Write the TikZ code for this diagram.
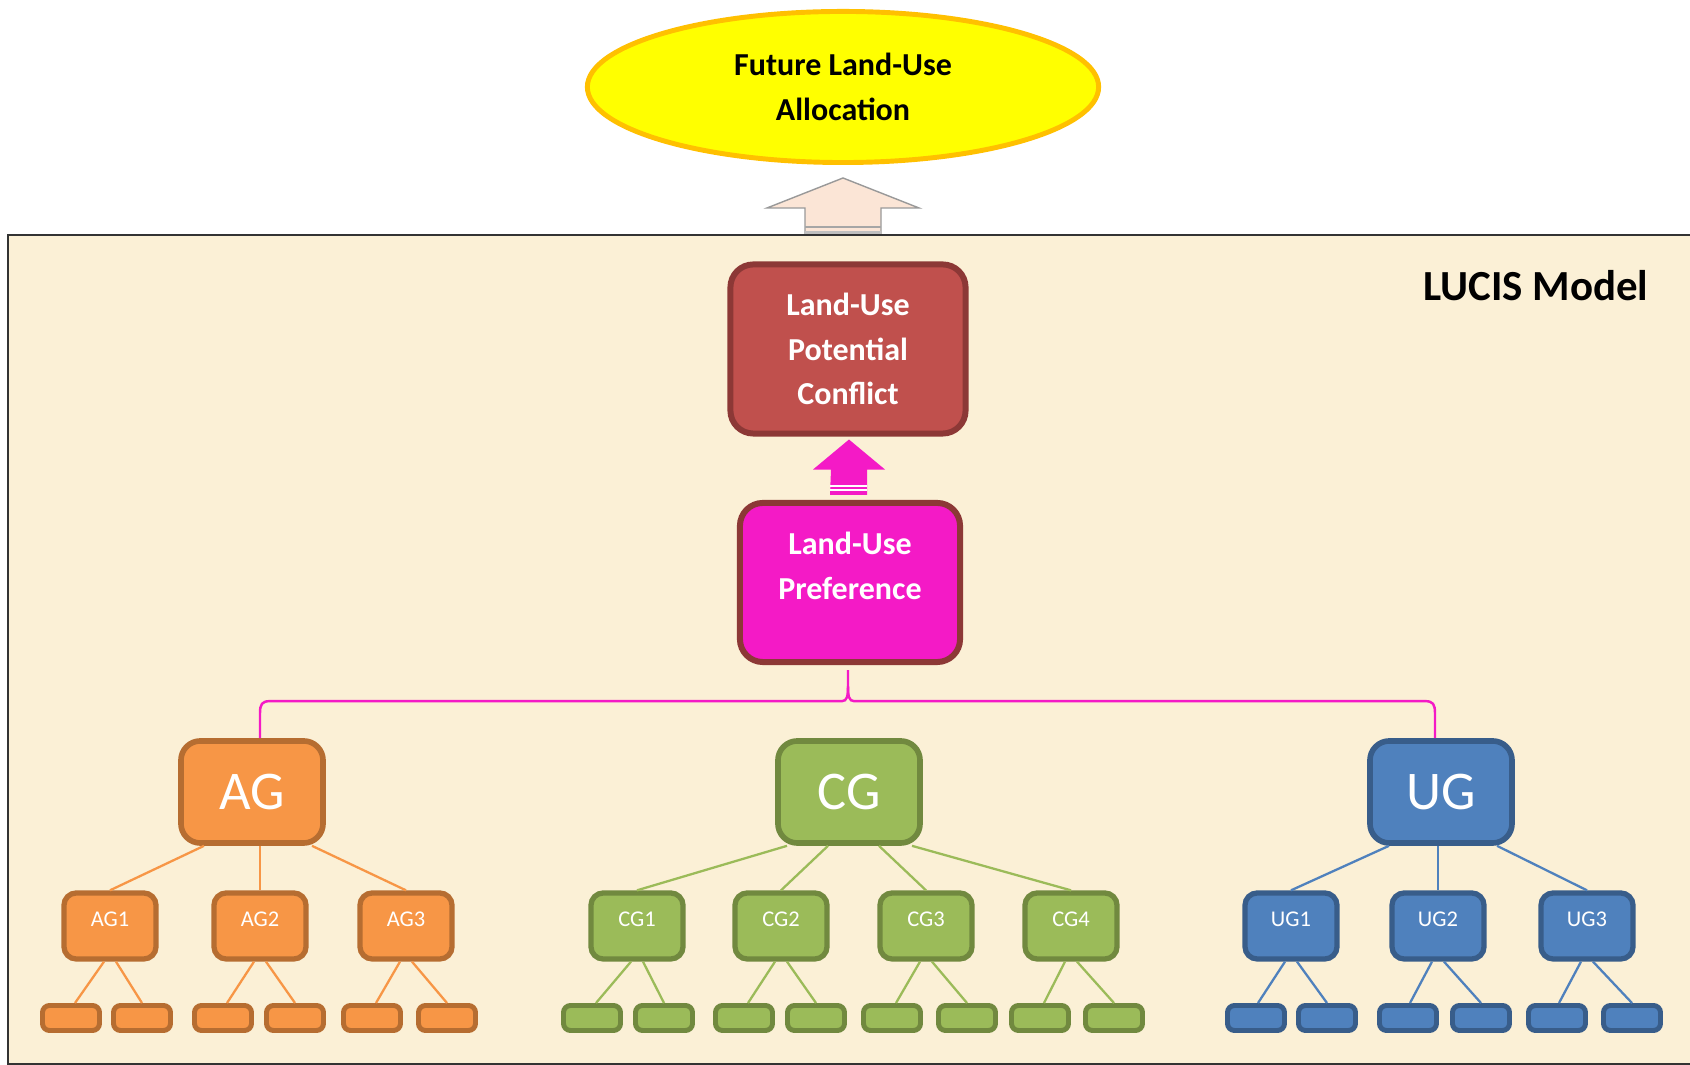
\documentclass[tikz,border=0pt]{standalone}
\usepackage{fontspec}
\setmainfont{Carlito}
\usetikzlibrary{calc,shapes.geometric}
\definecolor{bgc}{HTML}{FBF0D6}
\definecolor{futfill}{HTML}{FFFF00}
\definecolor{futdraw}{HTML}{FFC000}
\definecolor{arrfill}{HTML}{FBE5D6}
\definecolor{conffill}{HTML}{C0504D}
\definecolor{confdraw}{HTML}{8C3836}
\definecolor{pinkc}{HTML}{F41AC6}
\definecolor{agfill}{HTML}{F79646}
\definecolor{agdraw}{HTML}{B66D31}
\definecolor{cgfill}{HTML}{9BBB59}
\definecolor{cgdraw}{HTML}{71893F}
\definecolor{ugfill}{HTML}{4F81BD}
\definecolor{ugdraw}{HTML}{385D8A}
\begin{document}
\begin{tikzpicture}[x=0.01cm,y=-0.01cm,
  bigbox/.style={rounded corners=5.5pt, line width=1.6pt, minimum width=1.42cm, minimum height=1.02cm, inner sep=0pt, text=white, font=\fontsize{15.5}{18}\selectfont},
  midbox/.style={rounded corners=3.5pt, line width=1.5pt, minimum width=0.92cm, minimum height=0.66cm, inner sep=0pt, text=white, font=\fontsize{6.4}{7.5}\selectfont, text height=4.2pt, text depth=3.7pt},
  leafbox/.style={rounded corners=2pt, line width=1.4pt, minimum width=0.57cm, minimum height=0.25cm, inner sep=0pt},
  ag/.style={fill=agfill, draw=agdraw},
  cg/.style={fill=cgfill, draw=cgdraw},
  ug/.style={fill=ugfill, draw=ugdraw},
  agl/.style={draw=agfill, line width=0.65pt},
  cgl/.style={draw=cgfill, line width=0.65pt},
  ugl/.style={draw=ugfill, line width=0.65pt},
  headtext/.style={font=\fontsize{9.1}{12.7}\selectfont\bfseries, align=center},
]
\useasboundingbox (0,0) rectangle (1690,1065);
\fill[white] (0,0) rectangle (1690,1065);

% model frame
\draw[draw=black!80, line width=0.6pt, fill=bgc] (8,235) rectangle (1700,1064);
\coordinate (frametop) at (843,235);

% top ellipse
\node[ellipse, fill=futfill, draw=futdraw, line width=1.4pt, minimum width=5.11cm, minimum height=1.51cm, inner sep=0pt, headtext] (fut) at (843,87) {Future Land-Use\\Allocation};

% outline arrow to ellipse
\filldraw[fill=arrfill, draw=gray!80, line width=0.4pt]
  ($(fut.south)+(0,13)$) -- ($(fut.south)+(76,43)$) -- ($(fut.south)+(38,43)$)
  -- ($(frametop)+(38,0)$) -- ($(frametop)+(-38,0)$)
  -- ($(fut.south)+(-38,43)$) -- ($(fut.south)+(-76,43)$) -- cycle;
\fill[gray!50] ($(frametop)+(-38,-4)$) rectangle ($(frametop)+(38,0)$);
\draw[gray!70, line width=0.3pt] ($(frametop)+(-38,-8)$) -- ($(frametop)+(38,-8)$);
\draw[black!80, line width=0.6pt] ($(frametop)+(-60,0)$) -- ($(frametop)+(60,0)$);

\node[font=\fontsize{12.2}{14}\selectfont\bfseries] (lucis) at (1536,286) {LUCIS Model};

% conflict and preference
\node[fill=conffill, draw=confdraw, line width=1.7pt, rounded corners=6.5pt, minimum width=2.35cm, minimum height=1.69cm, inner sep=0pt, text=white, headtext] (conf) at (848,349) {Land-Use\\Potential\\Conflict};
\node[fill=pinkc, draw=confdraw, line width=1.7pt, rounded corners=6.5pt, minimum width=2.20cm, minimum height=1.59cm, inner sep=0pt,
  label={[text=white, headtext, yshift=4.8pt]center:Land-Use\\Preference}] (pref) at (850,582.5) {};

% magenta block arrow
\fill[pinkc] ($(conf.south)+(1,3)$) -- ($(conf.south)+(37,33)$) -- ($(conf.south)+(19,33)$)
  -- ($(pref.north)+(17,-5)$) -- ($(pref.north)+(-20,-5)$)
  -- ($(conf.south)+(-17,33)$) -- ($(conf.south)+(-35,33)$) -- cycle;
\draw[white, line width=0.4pt] ($(pref.north)+(-20,-14)$) -- ($(pref.north)+(17,-14)$);
\draw[white, line width=0.4pt] ($(pref.north)+(-20,-10)$) -- ($(pref.north)+(17,-10)$);

% group boxes
\node[bigbox,ag] (AG) at (252,792) {AG};
\node[bigbox,cg] (CG) at (849,792) {CG};
\node[bigbox,ug] (UG) at (1441,792) {UG};

% pink bracket connector
\coordinate (bl) at ($(AG.north)+(8,0)$);
\coordinate (br) at ($(UG.north)+(-6,0)$);
\coordinate (sp) at ($(pref.south)+(-2,5)$);
\draw[pinkc, line width=0.7pt]
  (bl) -- ($(bl)+(0,-25)$) .. controls ($(bl)+(0,-34)$) and ($(bl)+(2,-37)$) .. ($(bl)+(10,-37)$)
  -- ($(sp|-bl)+(-6,-37)$) .. controls ($(sp|-bl)+(-1,-37)$) and ($(sp|-bl)+(0,-42)$) .. ($(sp|-bl)+(0,-52)$)
  -- (sp);
\draw[pinkc, line width=0.7pt]
  ($(sp|-bl)+(0,-52)$) .. controls ($(sp|-bl)+(0,-42)$) and ($(sp|-bl)+(1,-37)$) .. ($(sp|-bl)+(6,-37)$)
  -- ($(br)+(-10,-37)$) .. controls ($(br)+(-2,-37)$) and ($(br)+(0,-34)$) .. ($(br)+(0,-25)$) -- (br);

% second level
\node[midbox,ag] (AG1) at (110,926) {AG1};
\node[midbox,ag] (AG2) at (260,926) {AG2};
\node[midbox,ag] (AG3) at (406,926) {AG3};
\node[midbox,cg] (CG1) at (637,926) {CG1};
\node[midbox,cg] (CG2) at (781,926) {CG2};
\node[midbox,cg] (CG3) at (926,926) {CG3};
\node[midbox,cg] (CG4) at (1071,926) {CG4};
\node[midbox,ug] (UG1) at (1291,926) {UG1};
\node[midbox,ug] (UG2) at (1438,926) {UG2};
\node[midbox,ug] (UG3) at (1587,926) {UG3};

% leaves
\foreach \n/\x in {AG1a/71, AG1b/142, AG2a/223, AG2b/295, AG3a/372, AG3b/447}
  \node[leafbox,ag] (\n) at (\x,1018) {};
\foreach \n/\x in {CG1a/592, CG1b/664, CG2a/744, CG2b/816, CG3a/892, CG3b/967, CG4a/1040, CG4b/1114}
  \node[leafbox,cg] (\n) at (\x,1018) {};
\foreach \n/\x in {UG1a/1256, UG1b/1327, UG2a/1408, UG2b/1481, UG3a/1557, UG3b/1632}
  \node[leafbox,ug] (\n) at (\x,1018) {};

% group to second-level connectors
\draw[agl] ($(AG.south)+(-48,0)$) -- (AG1.north);
\draw[agl] (AG2.north|-AG.south) -- (AG2.north);
\draw[agl] ($(AG.south)+(60,0)$) -- (AG3.north);
\draw[cgl] ($(CG.south)+(-62,0)$) -- (CG1.north);
\draw[cgl] ($(CG.south)+(-21,0)$) -- (CG2.north);
\draw[cgl] ($(CG.south)+(30,0)$) -- (CG3.north);
\draw[cgl] ($(CG.south)+(63,0)$) -- (CG4.north);
\draw[ugl] ($(UG.south)+(-52,0)$) -- (UG1.north);
\draw[ugl] (UG2.north|-UG.south) -- (UG2.north);
\draw[ugl] ($(UG.south)+(56,0)$) -- (UG3.north);

% second-level to leaf connectors
\foreach \p in {AG1,AG2,AG3} {
  \draw[agl] ($(\p.south)+(-6,0)$) -- ($(\p a.north)+(4,0)$);
  \draw[agl] ($(\p.south)+(6,0)$) -- (\p b.north);
}
\foreach \p in {CG1,CG2,CG3,CG4} {
  \draw[cgl] ($(\p.south)+(-6,0)$) -- ($(\p a.north)+(4,0)$);
  \draw[cgl] ($(\p.south)+(6,0)$) -- (\p b.north);
}
\foreach \p in {UG1,UG2,UG3} {
  \draw[ugl] ($(\p.south)+(-6,0)$) -- ($(\p a.north)+(2,0)$);
  \draw[ugl] ($(\p.south)+(6,0)$) -- (\p b.north);
}
\end{tikzpicture}
\end{document}
